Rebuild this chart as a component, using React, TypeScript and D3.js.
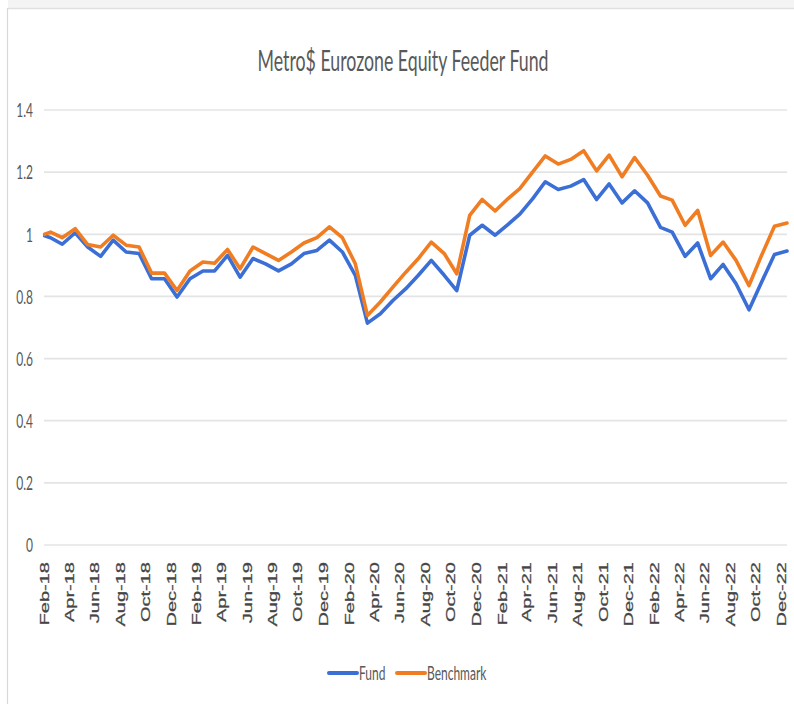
import React from "react";
import * as d3 from "d3";

const dates: string[] = [
  "2018-02-01", "2018-02-15", "2018-03-15", "2018-04-15", "2018-05-15", "2018-06-15", "2018-07-15", "2018-08-15", "2018-09-15", "2018-10-15", "2018-11-15", "2018-12-15",
  "2019-01-15", "2019-02-15", "2019-03-15", "2019-04-15", "2019-05-15", "2019-06-15", "2019-07-15", "2019-08-15", "2019-09-15", "2019-10-15", "2019-11-15", "2019-12-15",
  "2020-01-15", "2020-02-15", "2020-03-15", "2020-04-15", "2020-05-15", "2020-06-15", "2020-07-15", "2020-08-15", "2020-09-15", "2020-10-15", "2020-11-15", "2020-12-15",
  "2021-01-15", "2021-02-15", "2021-03-15", "2021-04-15", "2021-05-15", "2021-06-15", "2021-07-15", "2021-08-15", "2021-09-15", "2021-10-15", "2021-11-15", "2021-12-15",
  "2022-01-15", "2022-02-15", "2022-03-15", "2022-04-15", "2022-05-15", "2022-06-15", "2022-07-15", "2022-08-15", "2022-09-15", "2022-10-15", "2022-11-15", "2022-12-15",
];

const fund: number[] = [
  0.995, 0.989, 0.968, 1.005, 0.959, 0.929, 0.981, 0.943, 0.938, 0.857, 0.857, 0.798,
  0.857, 0.882, 0.882, 0.932, 0.862, 0.922, 0.905, 0.882, 0.905, 0.938, 0.948, 0.981,
  0.943, 0.868, 0.714, 0.744, 0.787, 0.825, 0.868, 0.916, 0.868, 0.819, 0.997, 1.029,
  0.997, 1.032, 1.065, 1.115, 1.169, 1.144, 1.155, 1.176, 1.112, 1.162, 1.101, 1.140,
  1.101, 1.022, 1.007, 0.929, 0.972, 0.857, 0.903, 0.841, 0.757, 0.846, 0.935, 0.946,
];

const benchmark: number[] = [
  1.0, 1.007, 0.989, 1.018, 0.967, 0.959, 0.997, 0.965, 0.959, 0.875, 0.875, 0.819,
  0.882, 0.911, 0.907, 0.951, 0.889, 0.959, 0.938, 0.916, 0.943, 0.972, 0.989, 1.024,
  0.989, 0.905, 0.739, 0.782, 0.830, 0.878, 0.922, 0.975, 0.938, 0.873, 1.061, 1.112,
  1.075, 1.115, 1.147, 1.201, 1.252, 1.226, 1.241, 1.269, 1.204, 1.255, 1.185, 1.247,
  1.190, 1.123, 1.110, 1.029, 1.077, 0.932, 0.975, 0.916, 0.835, 0.932, 1.026, 1.036,
];

const xTickLabels: string[] = [
  "Feb-18", "Apr-18", "Jun-18", "Aug-18", "Oct-18", "Dec-18",
  "Feb-19", "Apr-19", "Jun-19", "Aug-19", "Oct-19", "Dec-19",
  "Feb-20", "Apr-20", "Jun-20", "Aug-20", "Oct-20", "Dec-20",
  "Feb-21", "Apr-21", "Jun-21", "Aug-21", "Oct-21", "Dec-21",
  "Feb-22", "Apr-22", "Jun-22", "Aug-22", "Oct-22", "Dec-22",
];

const yTicks: number[] = [0, 0.2, 0.4, 0.6, 0.8, 1, 1.2, 1.4];

const title = "Metro$ Eurozone Equity Feeder Fund";
const seriesNames = ["Fund", "Benchmark"];
const seriesColors = ["#3b6fd6", "#f07d22"];

const W = 794;
const H = 704;
const SY = 1.67; // vertical stretch of the original

export default function App() {
  const parse = d3.timeParse("%Y-%m-%d");
  const parseLabel = d3.timeParse("%b-%y");
  const pts = dates.map((d) => parse(d) as Date);
  const x = d3
    .scaleTime()
    .domain([pts[0], pts[pts.length - 1]])
    .range([44.7, 787]);
  const y = d3.scaleLinear().domain([0, 1.4]).range([545, 110]);

  const line = d3
    .line<number>()
    .x((_, i) => x(pts[i]))
    .y((v) => y(v));

  const series = [fund, benchmark];
  const labelFont = "Lato, 'Open Sans', sans-serif";

  return (
    <svg
      width={W}
      height={H}
      style={{ position: "absolute", left: 0, top: 0, background: "#fff" }}
    >
      <rect x={0} y={0} width={W} height={H} fill="#fff" />
      {/* chart frame */}
      <rect x={8} y={0} width={W - 8} height={8} fill="#f4f4f4" />
      <line x1={8} x2={W} y1={8.5} y2={8.5} stroke="#e0e0e0" strokeWidth={1.5} />
      <line x1={7.5} x2={7.5} y1={8} y2={H} stroke="#d9d9d9" strokeWidth={1.2} />

      {/* title */}
      <g transform={`translate(403,71) scale(1,${SY})`}>
        <text
          x={0}
          y={0}
          textAnchor="middle"
          fontFamily={labelFont}
          fontWeight={400}
          fontSize={17}
          fill="#595959"
          textLength={291}
          lengthAdjust="spacingAndGlyphs"
        >
          {title}
        </text>
      </g>

      {/* gridlines + y labels */}
      {yTicks.map((t) => (
        <g key={t}>
          <line
            x1={44}
            x2={787}
            y1={y(t)}
            y2={y(t)}
            stroke="#e4e4e4"
            strokeWidth={1.7}
          />
          <g transform={`translate(33,${y(t)}) scale(1,${SY})`}>
            <text
              x={0}
              y={0}
              textAnchor="end"
              dominantBaseline="central"
              fontFamily={labelFont}
              fontSize={12}
              fill="#595959"
            >
              {String(t)}
            </text>
          </g>
        </g>
      ))}

      {/* x labels */}
      {xTickLabels.map((lab) => {
        const d = parseLabel(lab) as Date;
        return (
          <g key={lab} transform={`translate(${x(d)},562) rotate(-90) scale(${SY},1)`}>
            <text
              x={0}
              y={0}
              textAnchor="end"
              dominantBaseline="central"
              fontFamily="'Liberation Sans', Arial, sans-serif"
              fontSize={12}
              fill="#454545"
              stroke="#454545"
              strokeWidth={0.25}
            >
              {lab}
            </text>
          </g>
        );
      })}

      {/* series */}
      {series.map((s, i) => (
        <path
          key={seriesNames[i]}
          d={line(s) || ""}
          fill="none"
          stroke={seriesColors[i]}
          strokeWidth={3.6}
          strokeLinejoin="round"
          strokeLinecap="round"
        />
      ))}

      {/* legend */}
      {seriesNames.map((name, i) => {
        const lx = [329, 397][i];
        return (
          <g key={name}>
            <line
              x1={lx}
              x2={lx + 28}
              y1={673}
              y2={673}
              stroke={seriesColors[i]}
              strokeWidth={4}
              strokeLinecap="round"
            />
            <g transform={`translate(${lx + 30},673) scale(1,${SY})`}>
              <text
                x={0}
                y={0}
                dominantBaseline="central"
                fontFamily={labelFont}
                fontSize={12}
                fill="#595959"
              >
                {name}
              </text>
            </g>
          </g>
        );
      })}
    </svg>
  );
}
